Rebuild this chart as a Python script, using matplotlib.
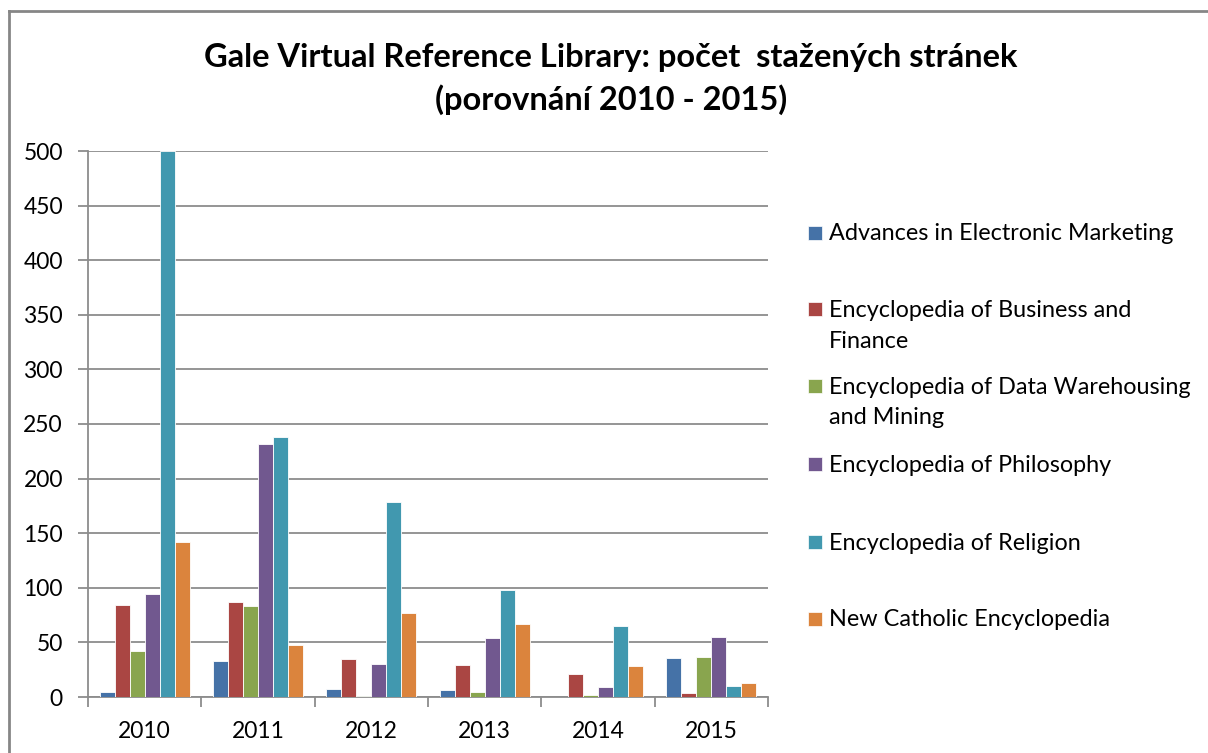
import matplotlib.pyplot as plt
import numpy as np
from matplotlib.patches import Rectangle
from matplotlib.lines import Line2D

plt.rcParams['font.family'] = ['Lato', 'DejaVu Sans']

years = ['2010', '2011', '2012', '2013', '2014', '2015']
series = ['Advances in Electronic Marketing',
          'Encyclopedia of Business and\nFinance',
          'Encyclopedia of Data Warehousing\nand Mining',
          'Encyclopedia of Philosophy',
          'Encyclopedia of Religion',
          'New Catholic Encyclopedia']
advances = [5, 33, 7, 6, 0, 36]
business = [84, 87, 35, 29, 21, 4]
warehousing = [42, 83, 1, 5, 2, 37]
philosophy = [94, 232, 30, 54, 9, 55]
religion = [500, 238, 179, 98, 65, 10]
catholic = [142, 48, 77, 67, 28, 13]
values = [advances, business, warehousing, philosophy, religion, catholic]
colors = ['#4572A7', '#AA4643', '#89A54E', '#71588F', '#4198AF', '#DB843D']

W, H = 1208, 753
fig = plt.figure(figsize=(W / 100, H / 100), dpi=100)
ax = fig.add_axes([88 / W, 1 - 697 / H, 680 / W, 546 / H])

x = np.arange(len(years))
w = 0.132
for i, vals in enumerate(values):
    ax.bar(x + (i - 2.5) * w, vals, w, color=colors[i], edgecolor='white',
           linewidth=0.6, zorder=3)

ax.set_xlim(-0.5, len(years) - 0.5)
ax.set_ylim(0, 500)
ax.set_yticks(np.arange(0, 501, 50))
ax.yaxis.grid(True, color='#8C8C8C', linewidth=1.3, zorder=0)
ax.set_xticks(x)
ax.set_xticklabels(years)
ax.set_xticks(np.arange(-0.5, len(years), 1), minor=True)
ax.tick_params(axis='x', which='major', length=0, pad=17, labelsize=16.5)
ax.tick_params(axis='x', which='minor', length=7, width=1.3, color='#8C8C8C')
ax.tick_params(axis='y', length=7, width=1.3, color='#8C8C8C', pad=11, labelsize=16.5)
for s in ['top', 'right']:
    ax.spines[s].set_visible(False)
for s in ['left', 'bottom']:
    ax.spines[s].set_color('#8C8C8C')
    ax.spines[s].set_linewidth(1.3)

fig.text(611 / W, 1 - 57 / H, 'Gale Virtual Reference Library: počet  stažených stránek',
         ha='center', va='center', fontsize=23.5, fontweight='bold')
fig.text(611 / W, 1 - 100 / H, '(porovnání 2010 - 2015)',
         ha='center', va='center', fontsize=23.5, fontweight='bold')

# legend laid out by hand like the Excel one
leg_y = [233, 309, 386, 464, 542, 619]
for i, name in enumerate(series):
    yf = 1 - leg_y[i] / H
    fig.patches.append(Rectangle((808 / W, yf - 7 / H), 14 / W, 14 / H,
                                 transform=fig.transFigure, facecolor=colors[i],
                                 edgecolor='white', linewidth=0.5))
    for j, line in enumerate(name.split('\n')):
        fig.text(829 / W, yf - (31 * j + 1) / H, line, ha='left', va='center',
                 fontsize=16.8)

# chart border (top and left edges visible)
fig.lines.append(Line2D([9 / W, 9 / W], [0, 1 - 11 / H], transform=fig.transFigure,
                        color='#868686', linewidth=2))
fig.lines.append(Line2D([9 / W, 1], [1 - 11 / H, 1 - 11 / H], transform=fig.transFigure,
                        color='#868686', linewidth=2))

plt.savefig('out.png', dpi=100)
